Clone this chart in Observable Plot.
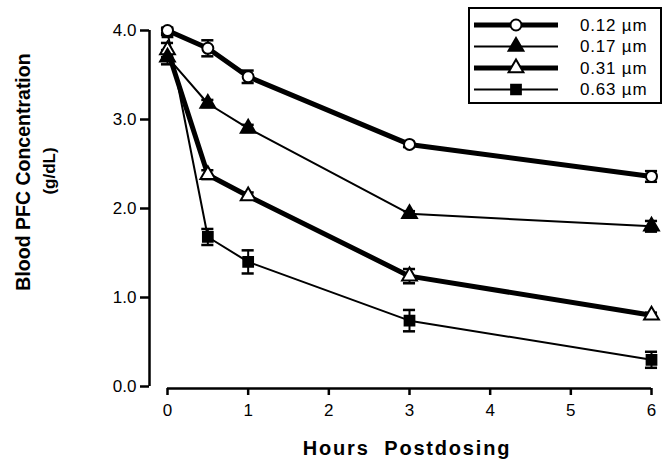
<!DOCTYPE html>
<html>
<head>
<meta charset="utf-8">
<script src="https://cdn.jsdelivr.net/npm/d3@7"></script>
<script src="https://cdn.jsdelivr.net/npm/@observablehq/plot@0.6"></script>
<style>
  html, body { margin: 0; padding: 0; background: #fff; }
  #chart { width: 668px; height: 467px; }
</style>
</head>
<body>
<div id="chart"></div>
<script>
// ---- data ----
const hours = [0, 0.5, 1, 3, 6];
const seriesNames = ["0.12 \u00b5m", "0.17 \u00b5m", "0.31 \u00b5m", "0.63 \u00b5m"];
const values012 = [4.00, 3.80, 3.48, 2.72, 2.36];
const values017 = [3.70, 3.18, 2.90, 1.94, 1.80];
const values031 = [3.78, 2.38, 2.14, 1.24, 0.80];
const values063 = [3.98, 1.68, 1.40, 0.74, 0.30];
const errors012 = [0.03, 0.09, 0.07, 0.03, 0.06];
const errors017 = [0.08, 0.04, 0.04, 0.03, 0.06];
const errors031 = [0.08, 0.05, 0.04, 0.08, 0.03];
const errors063 = [0.03, 0.09, 0.13, 0.12, 0.09];
const xTicks = [0, 1, 2, 3, 4, 5, 6];
const yTicks = [0, 1, 2, 3, 4];

// ---- styles per series ----
const styles = [
  {symbol: "circle", fill: "white", lineWidth: 5},
  {symbol: "triangle", fill: "black", lineWidth: 2},
  {symbol: "triangle", fill: "white", lineWidth: 5},
  {symbol: "square", fill: "black", lineWidth: 2}
];
const allValues = [values012, values017, values031, values063];
const allErrors = [errors012, errors017, errors031, errors063];

const data = [];
seriesNames.forEach((name, i) => {
  hours.forEach((h, j) => {
    data.push({series: name, idx: i, x: h, y: allValues[i][j], e: allErrors[i][j]});
  });
});

const capHalf = 0.075;
const markerR = 5.5;
const font = "'Liberation Sans', Arial, Helvetica, sans-serif";

const marks = [];
// axis lines (offset like the original)
marks.push(Plot.ruleX([0], {y1: 0, y2: 4, dx: -18, stroke: "black", strokeWidth: 2.5}));
marks.push(Plot.ruleY([0], {x1: 0, x2: 6, dy: 2, stroke: "black", strokeWidth: 2.5}));
marks.push(Plot.axisY({ticks: yTicks, tickFormat: d3.format(".1f"), dx: -18, tickSize: 9, tickPadding: 4, strokeWidth: 2.5, fontSize: 17, label: null}));
marks.push(Plot.axisX({ticks: xTicks, tickFormat: d3.format("d"), dy: 2, tickSize: 7, tickPadding: 8, strokeWidth: 2.5, fontSize: 17, label: null}));

// error bars
marks.push(Plot.ruleX(data, {x: "x", y1: d => d.y - d.e, y2: d => d.y + d.e, stroke: "black", strokeWidth: 2}));
marks.push(Plot.ruleY(data, {y: d => d.y + d.e, x1: d => d.x - capHalf, x2: d => d.x + capHalf, stroke: "black", strokeWidth: 2.5}));
marks.push(Plot.ruleY(data, {y: d => d.y - d.e, x1: d => d.x - capHalf, x2: d => d.x + capHalf, stroke: "black", strokeWidth: 2.5}));

// lines
seriesNames.forEach((name, i) => {
  marks.push(Plot.line(data.filter(d => d.idx === i), {x: "x", y: "y", stroke: "black", strokeWidth: styles[i].lineWidth}));
});
// markers (last series first so the circle sits on top at t=0)
for (let i = seriesNames.length - 1; i >= 0; i--) {
  marks.push(Plot.dot(data.filter(d => d.idx === i), {x: "x", y: "y", symbol: () => styles[i].symbol, r: markerR, fill: styles[i].fill, stroke: "black", strokeWidth: 2}));
}

const plot = Plot.plot({
  width: 668,
  height: 467,
  marginLeft: 167,
  marginRight: 17,
  marginTop: 30,
  marginBottom: 81,
  style: {fontFamily: font, color: "black", background: "white"},
  x: {domain: [0, 6]},
  y: {domain: [0, 4]},
  symbol: {domain: ["circle", "triangle", "square"], range: ["circle", "triangle", "square"]},
  marks
});

const svg = d3.select(plot);

// axis titles
svg.append("text")
  .attr("transform", "translate(30,172) rotate(-90)")
  .attr("text-anchor", "middle")
  .attr("font-family", font).attr("font-weight", "bold").attr("font-size", 19.5)
  .attr("fill", "black")
  .text("Blood PFC Concentration");
svg.append("text")
  .attr("transform", "translate(55,171) rotate(-90)")
  .attr("text-anchor", "middle")
  .attr("font-family", font).attr("font-weight", "bold").attr("font-size", 17)
  .attr("fill", "black")
  .text("(g/dL)");
svg.append("text")
  .attr("x", 407).attr("y", 455)
  .attr("text-anchor", "middle")
  .attr("font-family", font).attr("font-weight", "bold").attr("font-size", 20)
  .attr("letter-spacing", 1.8)
  .attr("fill", "black")
  .style("white-space", "pre")
  .text("Hours  Postdosing");

// legend
const lg = svg.append("g");
lg.append("rect").attr("x", 469).attr("y", 8).attr("width", 192).attr("height", 95)
  .attr("fill", "white").attr("stroke", "black").attr("stroke-width", 2);
const symbolPath = {circle: d3.symbolCircle, triangle: d3.symbolTriangle, square: d3.symbolSquare};
seriesNames.forEach((name, i) => {
  const yy = 25 + i * 21.5;
  lg.append("line").attr("x1", 474).attr("x2", 558).attr("y1", yy).attr("y2", yy)
    .attr("stroke", "black").attr("stroke-width", styles[i].lineWidth);
  const area = Math.PI * markerR * markerR;
  lg.append("path").attr("d", d3.symbol(symbolPath[styles[i].symbol], area)())
    .attr("transform", `translate(516,${yy})`)
    .attr("fill", styles[i].fill).attr("stroke", "black").attr("stroke-width", 2);
  lg.append("text").attr("x", 580).attr("y", yy).attr("dy", "0.35em")
    .attr("text-anchor", "start")
    .attr("font-family", font).attr("font-size", 17).attr("letter-spacing", 0.8)
    .attr("fill", "black")
    .text(name);
});

document.getElementById("chart").appendChild(plot);
</script>
</body>
</html>
